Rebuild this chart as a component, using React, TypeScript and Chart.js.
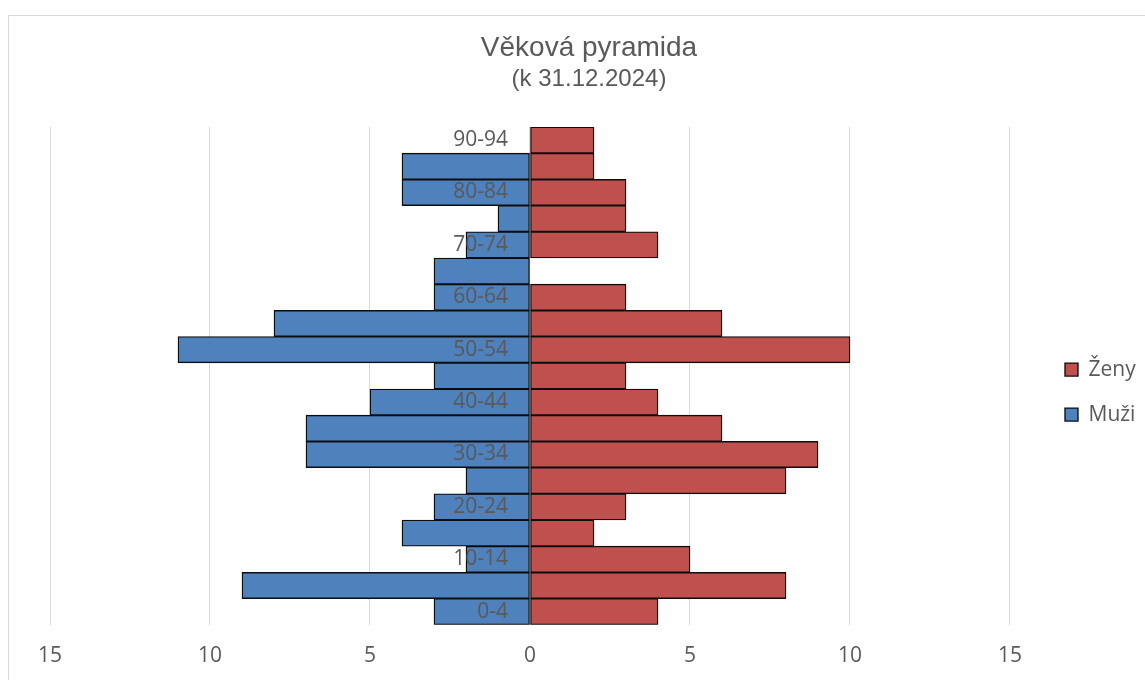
import React, { useEffect, useRef } from 'react';
import { Chart, registerables } from 'chart.js';

Chart.register(...registerables);

const ageGroups = ['0-4', '5-9', '10-14', '15-19', '20-24', '25-29', '30-34', '35-39', '40-44', '45-49', '50-54', '55-59', '60-64', '65-69', '70-74', '75-79', '80-84', '85-89', '90-94'];
const menCounts = [3, 9, 2, 4, 3, 2, 7, 7, 5, 3, 11, 8, 3, 3, 2, 1, 4, 4, 0];
const womenCounts = [4, 8, 5, 2, 3, 8, 9, 6, 4, 3, 10, 6, 3, 0, 4, 3, 3, 2, 2];
const xTickMin = -15;
const xTickMax = 15;
const xTickStep = 5;

const titleText = 'Věková pyramida';
const subtitleText = '(k 31.12.2024)';
const womenLabel = 'Ženy';
const menLabel = 'Muži';

const GRAY_TEXT = '#595959';
const SANS = '"Open Sans", "Liberation Sans", sans-serif';

export default function App() {
  const ref = useRef<HTMLCanvasElement>(null);

  useEffect(() => {
    const categoryLabelPlugin = {
      id: 'categoryLabels',
      afterDatasetsDraw(chart: any) {
        const { ctx, scales } = chart;
        const xs = scales.x;
        const ys = scales.y;
        const x0 = xs.getPixelForValue(0);
        ctx.save();
        ctx.font = `21px ${SANS}`;
        ctx.fillStyle = GRAY_TEXT;
        ctx.textAlign = 'right';
        ctx.textBaseline = 'middle';
        ageGroups.forEach((lab, i) => {
          if (i % 2 !== 0) return;
          ctx.fillText(lab, x0 - 22, ys.getPixelForValue(i));
        });
        ctx.restore();
      },
    };

    const chart = new Chart(ref.current as HTMLCanvasElement, {
      type: 'bar',
      data: {
        labels: ageGroups,
        datasets: [
          {
            label: womenLabel,
            data: womenCounts,
            backgroundColor: '#C0504D',
            borderColor: '#0d0d0d',
            borderWidth: 1.35,
            borderSkipped: false,
            barPercentage: 1,
            categoryPercentage: 1,
          },
          {
            label: menLabel,
            data: menCounts.map((v) => -v),
            backgroundColor: '#4F81BD',
            borderColor: '#0d0d0d',
            borderWidth: 1.35,
            borderSkipped: false,
            barPercentage: 1,
            categoryPercentage: 1,
          },
        ],
      },
      options: {
        indexAxis: 'y',
        responsive: false,
        animation: false,
        layout: {
          padding: { left: 23.3, right: 23.3, top: 0, bottom: 0 },
        },
        scales: {
          x: {
            type: 'linear',
            stacked: true,
            min: xTickMin,
            max: xTickMax,
            grid: {
              color: '#d9d9d9',
              lineWidth: 1,
              drawTicks: false,
            },
            border: { display: false },
            ticks: {
              stepSize: xTickStep,
              padding: 19,
              color: GRAY_TEXT,
              font: { family: SANS, size: 21 },
              callback: (v: any) => String(Math.abs(Number(v))),
            },
          },
          y: {
            type: 'category',
            stacked: true,
            reverse: true,
            position: 'right',
            grid: { display: false },
            border: { display: false },
            ticks: { display: false },
            afterFit: (scale: any) => {
              scale.width = 31;
            },
          },
          ySpacer: {
            type: 'linear',
            axis: 'y',
            position: 'left',
            grid: { display: false },
            border: { display: false },
            ticks: { display: false },
            afterFit: (scale: any) => {
              scale.width = 17.7;
            },
          },
        },
        plugins: {
          title: {
            display: true,
            text: titleText,
            color: GRAY_TEXT,
            font: { family: '"Liberation Sans", Arial, sans-serif', size: 28, weight: 'normal' },
            padding: { top: 15, bottom: 0 },
          },
          subtitle: {
            display: true,
            text: subtitleText,
            color: GRAY_TEXT,
            font: { family: '"Liberation Sans", Arial, sans-serif', size: 24, weight: 'normal' },
            padding: { top: 0, bottom: 33.6 },
          },
          legend: {
            display: true,
            position: 'right',
            fullSize: false,
            title: {
              display: true,
              text: ' ',
              font: { size: 12 },
              padding: { top: 18, bottom: 0 },
            },
            labels: {
              boxWidth: 13,
              boxHeight: 13,
              padding: 24,
              color: GRAY_TEXT,
              font: { family: SANS, size: 21 },
            },
          },
          tooltip: { enabled: false },
        },
      },
      plugins: [categoryLabelPlugin],
    } as any);

    return () => chart.destroy();
  }, []);

  return (
    <div style={{ position: 'fixed', left: 0, top: 0, width: 1145, height: 680, overflow: 'hidden', background: '#ffffff' }}>
      <div
        style={{
          position: 'absolute',
          left: 8,
          top: 15,
          width: 1160,
          height: 700,
          border: '1px solid #d9d9d9',
          background: '#ffffff',
        }}
      >
        <canvas ref={ref} width={1160} height={672} style={{ display: 'block' }} />
      </div>
    </div>
  );
}
